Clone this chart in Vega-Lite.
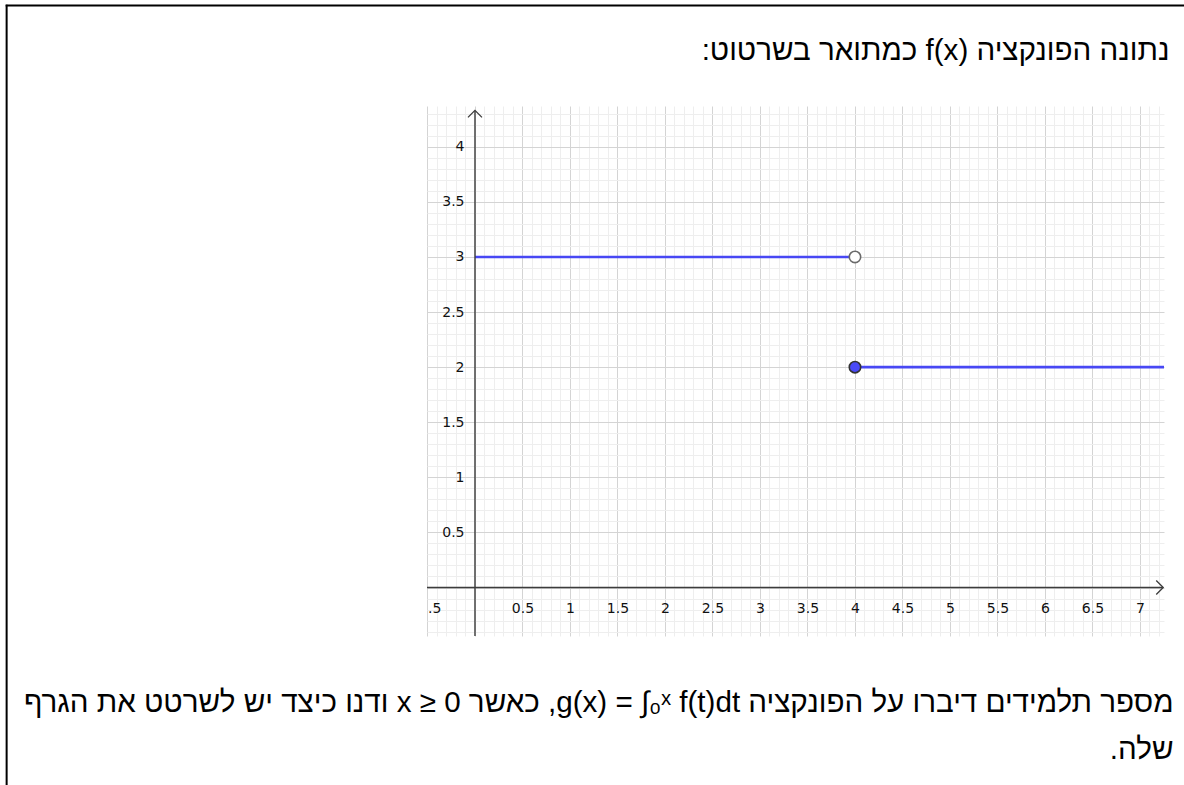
{
  "$schema": "https://vega.github.io/schema/vega-lite/v6.json",
  "autosize": {"type": "none"},
  "padding": {"left": 427, "top": 106, "right": 20, "bottom": 149},
  "width": 737,
  "height": 530,
  "background": "white",
  "config": {"view": {"stroke": null}},
  "datasets": {
    "segments": [
      {"x": 0, "x2": 4, "y": 3},
      {"x": 4, "x2": 7.4, "y": 2}
    ],
    "points": [
      {"x": 4, "y": 3, "kind": "open"},
      {"x": 4, "y": 2, "kind": "closed"}
    ]
  },
  "resolve": {"axis": {"x": "independent", "y": "independent"}},
  "layer": [
    {
      "data": {"name": "segments"},
      "mark": {"type": "rule", "color": "#4848f4", "strokeWidth": 2.6, "clip": true},
      "encoding": {
        "x": {
          "field": "x", "type": "quantitative",
          "scale": {"domain": [-0.505, 7.253], "nice": false, "zero": false},
          "axis": {
            "orient": "bottom",
            "values": [-0.4,-0.3,-0.2,-0.1,0.1,0.2,0.3,0.4,0.6,0.7,0.8,0.9,1.1,1.2,1.3,1.4,1.6,1.7,1.8,1.9,2.1,2.2,2.3,2.4,2.6,2.7,2.8,2.9,3.1,3.2,3.3,3.4,3.6,3.7,3.8,3.9,4.1,4.2,4.3,4.4,4.6,4.7,4.8,4.9,5.1,5.2,5.3,5.4,5.6,5.7,5.8,5.9,6.1,6.2,6.3,6.4,6.6,6.7,6.8,6.9,7.1,7.2],
            "grid": true, "gridColor": "#eeeeee", "gridWidth": 1,
            "labels": false, "ticks": false, "domain": false,
            "title": [
              "\u202Bמספר תלמידים דיברו על הפונקציה \u202Ag(x) = ∫₀ˣ f(t)dt\u202C, כאשר \u202Ax ≥ 0\u202C ודנו כיצד יש לשרטט את הגרף\u202C",
              "\u202Bשלה.\u202C"
            ],
            "titleX": 746,
            "titleY": 75,
            "titleAlign": "right",
            "titleAngle": 0,
            "titleBaseline": "alphabetic",
            "titleLineHeight": 47,
            "titleFont": "Liberation Sans",
            "titleFontSize": 29.6,
            "titleFontWeight": "normal",
            "titleColor": "#000000"
          }
        },
        "x2": {"field": "x2"},
        "y": {
          "field": "y", "type": "quantitative",
          "scale": {"domain": [-0.44, 4.37], "nice": false, "zero": false},
          "axis": {
            "orient": "left",
            "values": [-0.4,-0.3,-0.2,-0.1,0.1,0.2,0.3,0.4,0.6,0.7,0.8,0.9,1.1,1.2,1.3,1.4,1.6,1.7,1.8,1.9,2.1,2.2,2.3,2.4,2.6,2.7,2.8,2.9,3.1,3.2,3.3,3.4,3.6,3.7,3.8,3.9,4.1,4.2,4.3],
            "grid": true, "gridColor": "#eeeeee", "gridWidth": 1,
            "labels": false, "ticks": false, "domain": false,
            "title": "\u202Bנתונה הפונקציה \u202Af(x)\u202C כמתואר בשרטוט:\u202C",
            "titleX": 742,
            "titleY": -47,
            "titleAlign": "right",
            "titleAngle": 0,
            "titleBaseline": "alphabetic",
            "titleFont": "Liberation Sans",
            "titleFontSize": 29.6,
            "titleFontWeight": "normal",
            "titleColor": "#000000"
          }
        }
      }
    },
    {
      "data": {"values": [{}]},
      "mark": {"type": "rule", "color": "#3c3c3c", "strokeWidth": 1.4, "clip": false},
      "encoding": {
        "x": {"datum": -0.505, "type": "quantitative", "axis": null},
        "x2": {"datum": 7.24},
        "y": {"datum": 0, "type": "quantitative", "axis": null}
      }
    },
    {
      "data": {"values": [{}]},
      "mark": {"type": "rule", "color": "#3c3c3c", "strokeWidth": 1.4, "clip": false},
      "encoding": {
        "x": {"datum": 0, "type": "quantitative", "axis": null},
        "y": {"datum": -0.44, "type": "quantitative", "axis": null},
        "y2": {"datum": 4.325}
      }
    },
    {
      "data": {"values": [{}]},
      "mark": {"type": "point", "shape": "M-1,-1L0,0L-1,1", "filled": false, "stroke": "#3c3c3c", "strokeWidth": 1.3, "size": 196, "opacity": 1, "clip": false},
      "encoding": {
        "x": {"datum": 7.245, "type": "quantitative", "axis": null},
        "y": {"datum": 0, "type": "quantitative", "axis": null}
      }
    },
    {
      "data": {"values": [{}]},
      "mark": {"type": "point", "shape": "M-1,1L0,0L1,1", "filled": false, "stroke": "#3c3c3c", "strokeWidth": 1.3, "size": 196, "opacity": 1, "clip": false},
      "encoding": {
        "x": {"datum": 0, "type": "quantitative", "axis": null},
        "y": {"datum": 4.33, "type": "quantitative", "axis": null}
      }
    },
    {
      "data": {"values": [{}]},
      "mark": {"type": "rule", "color": "#000000", "strokeWidth": 2, "clip": false},
      "encoding": {
        "x": {"datum": -4.93, "type": "quantitative", "axis": null},
        "y": {"datum": 5.29, "type": "quantitative", "axis": null},
        "y2": {"datum": -1.95}
      }
    },
    {
      "data": {"values": [{}]},
      "mark": {"type": "rule", "color": "#000000", "strokeWidth": 2, "clip": false},
      "encoding": {
        "x": {"datum": -4.94, "type": "quantitative", "axis": null},
        "x2": {"datum": 7.6},
        "y": {"datum": 5.282, "type": "quantitative", "axis": null}
      }
    },
    {
      "data": {"name": "points"},
      "mark": {"type": "point", "filled": true, "size": 130, "strokeWidth": 1.6, "opacity": 1, "clip": false},
      "encoding": {
        "x": {
          "field": "x", "type": "quantitative",
          "scale": {"domain": [-0.505, 7.253], "nice": false, "zero": false},
          "axis": {
            "orient": "bottom",
            "offset": -48,
            "values": [-0.5,0,0.5,1,1.5,2,2.5,3,3.5,4,4.5,5,5.5,6,6.5,7],
            "grid": true, "gridColor": "#d4d4d4", "gridWidth": 1,
            "ticks": false, "domain": false, "title": null,
            "labelExpr": "datum.value == 0 ? '' : datum.value < 0 ? '.5' : format(datum.value, '~g')",
            "labelAlign": {"condition": {"test": "datum.value < 0", "value": "left"}, "value": "center"},
            "labelPadding": 13,
            "labelFont": "DejaVu Sans",
            "labelFontSize": 14,
            "labelColor": "#111111",
            "labelFlush": false,
            "labelOverlap": false
          }
        },
        "y": {
          "field": "y", "type": "quantitative",
          "scale": {"domain": [-0.44, 4.37], "nice": false, "zero": false},
          "axis": {
            "orient": "left",
            "offset": -48,
            "values": [0,0.5,1,1.5,2,2.5,3,3.5,4],
            "grid": true, "gridColor": "#d4d4d4", "gridWidth": 1,
            "ticks": false, "domain": false, "title": null,
            "labelExpr": "datum.value == 0 ? '' : format(datum.value, '~g')",
            "labelPadding": 11,
            "labelFont": "DejaVu Sans",
            "labelFontSize": 14,
            "labelColor": "#111111",
            "labelFlush": false,
            "labelOverlap": false
          }
        },
        "fill": {
          "field": "kind", "type": "nominal",
          "scale": {"domain": ["open", "closed"], "range": ["#ffffff", "#4a4af8"]},
          "legend": null
        },
        "stroke": {
          "field": "kind", "type": "nominal",
          "scale": {"domain": ["open", "closed"], "range": ["#6a6a6a", "#333333"]},
          "legend": null
        }
      }
    }
  ]
}
